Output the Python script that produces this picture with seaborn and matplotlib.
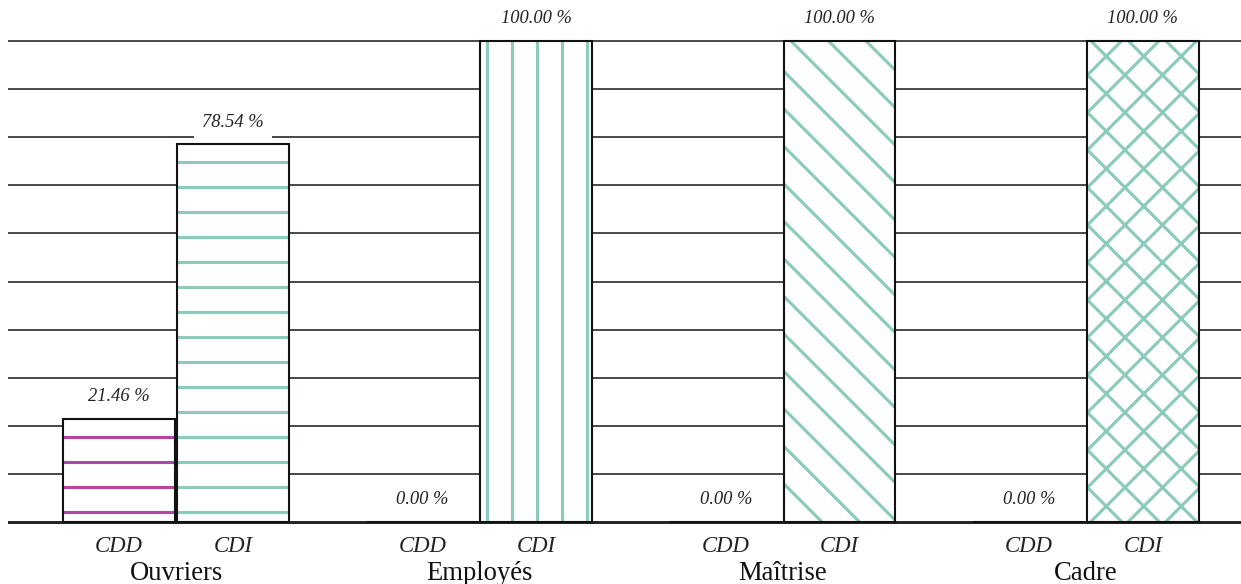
import matplotlib
matplotlib.use("Agg")
import matplotlib.pyplot as plt
import matplotlib.hatch as mhatch
import pandas as pd
import seaborn as sns

# Share of contract type (CDD / CDI) per staff category, in percent
categories = ["Ouvriers", "Employés", "Maîtrise", "Cadre"]
contracts = ["CDD", "CDI"]
cdd_pct = [21.46, 0.00, 0.00, 0.00]
cdi_pct = [78.54, 100.00, 100.00, 100.00]

# Fill pattern and pattern colour for each bar
hatch_cdd = ["-", "-", "-", "-"]
hatch_cdi = ["-", "|", "\\", "x"]
color_cdd = "#b4469f"
color_cdi = "#8ccbba"

df = pd.DataFrame({
    "categorie": categories * 2,
    "contrat": [contracts[0]] * len(categories) + [contracts[1]] * len(categories),
    "pct": cdd_pct + cdi_pct,
})


# Wider spacing for the diagonal hatch families (8 lines per hatch cell
# instead of 6), so slanted strokes sit further apart than straight ones.
class _WideNorthEast(mhatch.NorthEastHatch):
    def __init__(self, hatch, density):
        super().__init__(hatch, density * 4 / 3)


class _WideSouthEast(mhatch.SouthEastHatch):
    def __init__(self, hatch, density):
        super().__init__(hatch, density * 4 / 3)


mhatch._hatch_types[mhatch._hatch_types.index(mhatch.NorthEastHatch)] = _WideNorthEast
mhatch._hatch_types[mhatch._hatch_types.index(mhatch.SouthEastHatch)] = _WideSouthEast

sns.set_theme(style="white")
plt.rcParams["hatch.linewidth"] = 1.5
plt.rcParams["font.family"] = ["Liberation Serif", "DejaVu Serif"]

DPI = 150
W, H = 1241, 584
fig = plt.figure(figsize=(W / DPI, H / DPI), dpi=DPI)
fig.patch.set_facecolor("white")
ax = fig.add_axes([8 / W, 0.0979, 1 - 8 / W, 0.938 - 0.0979])

# Hatched bars
sns.barplot(data=df, x="categorie", y="pct", hue="contrat",
            order=categories, hue_order=contracts,
            palette=["white", "white"], saturation=1,
            width=0.75, gap=0.02, errorbar=None, legend=False,
            linewidth=0, ax=ax, zorder=2)

pattern_sets = [(hatch_cdd, color_cdd), (hatch_cdi, color_cdi)]
for container, (hatches, hcolor) in zip(ax.containers[:2], pattern_sets):
    for patch, hatch in zip(container, hatches):
        patch.set_hatch(hatch)
        patch.set_edgecolor(hcolor)
        patch.set_linewidth(0)
        patch.set_facecolor("white")

# Black outlines on top of the hatched bars
sns.barplot(data=df, x="categorie", y="pct", hue="contrat",
            order=categories, hue_order=contracts,
            palette=["#111111", "#111111"], saturation=1, fill=False,
            width=0.75, gap=0.02, errorbar=None, legend=False,
            linewidth=1.0, ax=ax, zorder=3)

outline_containers = ax.containers[2:4]

# Value labels above each bar
for container, values in zip(outline_containers, [cdd_pct, cdi_pct]):
    for patch, v in zip(container, values):
        xc = patch.get_x() + patch.get_width() / 2
        ax.annotate(f"{v:.2f} %", (xc, v), xytext=(0, 6.5),
                    textcoords="offset points", ha="center", va="bottom",
                    fontsize=8.9, fontstyle="italic", color="#222222",
                    bbox=dict(boxstyle="square,pad=0.45", fc="white", ec="none"),
                    zorder=4, annotation_clip=False)

# Horizontal guide lines every 10 %
ax.set_ylim(-1, 101)
ax.set_xlim(-0.554, 3.511)
ax.set_yticks(range(10, 101, 10))
ax.yaxis.grid(True, color="#1a1a1a", linewidth=0.75, zorder=1)
ax.set_axisbelow(True)
ax.axhline(0, color="#222222", linewidth=1.4, zorder=1)
ax.tick_params(axis="y", left=False, labelleft=False)
for side in ["top", "right", "left", "bottom"]:
    ax.spines[side].set_visible(False)

# Contract labels under each bar, category labels under each group
centers = []
names = []
for container in outline_containers:
    for patch in container:
        centers.append(patch.get_x() + patch.get_width() / 2)
for name in contracts:
    names.extend([name] * len(categories))
ax.set_xticks(range(len(categories)))
ax.set_xticklabels(categories, fontsize=12.8, color="#111111")
ax.set_xticks(centers, minor=True)
ax.set_xticklabels(names, minor=True, fontsize=10.9, fontstyle="italic",
                   color="#222222")
ax.tick_params(axis="x", which="major", length=0, pad=16.5)
ax.tick_params(axis="x", which="minor", length=0, pad=4.5)
ax.set_xlabel("")
ax.set_ylabel("")

fig.savefig("out.png", dpi=DPI, facecolor="white")
